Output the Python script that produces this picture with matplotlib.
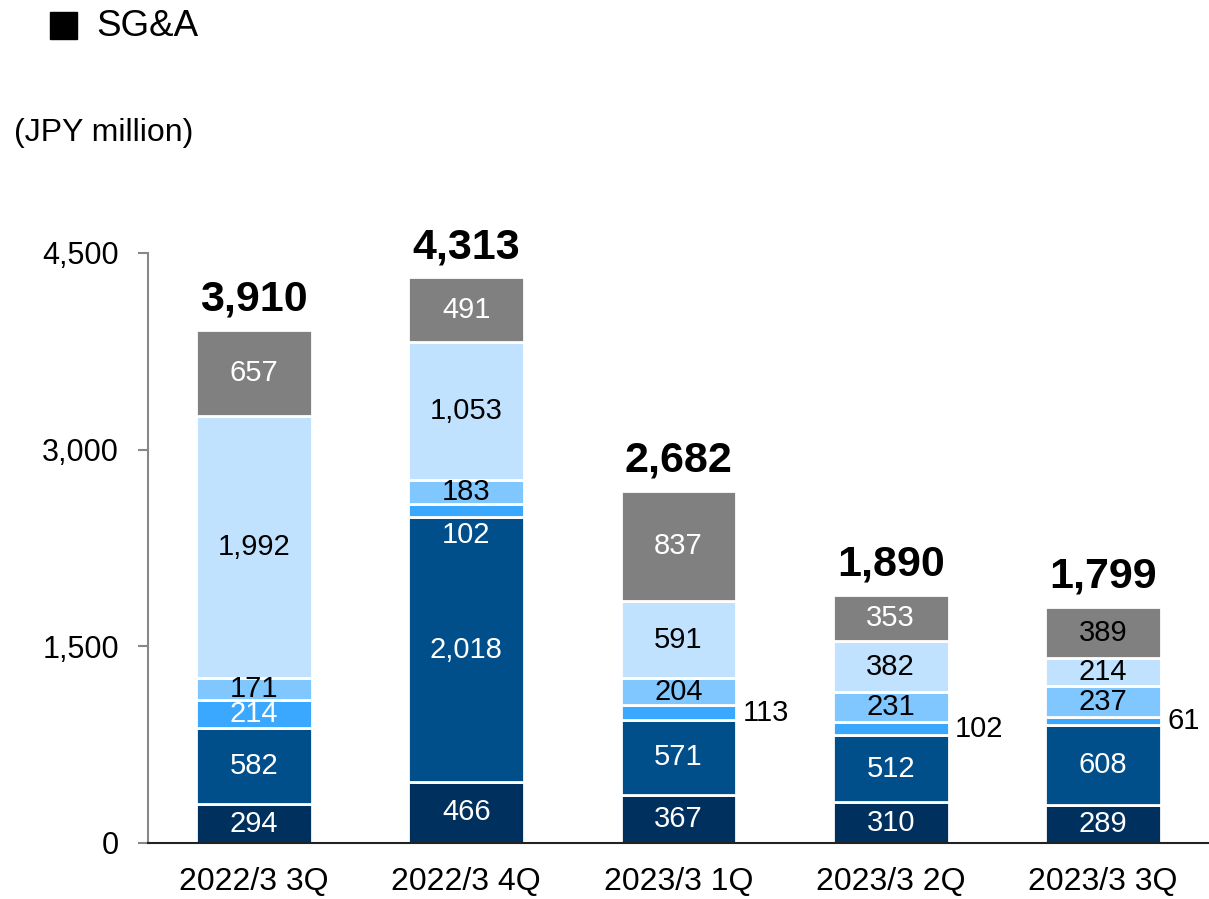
import numpy as np
import matplotlib
matplotlib.use("Agg")
import matplotlib.pyplot as plt
from matplotlib.patches import Rectangle

plt.rcParams['font.family'] = ['Liberation Sans', 'DejaVu Sans']

quarters = ['2022/3 3Q', '2022/3 4Q', '2023/3 1Q', '2023/3 2Q', '2023/3 3Q']
seg1 = [294, 466, 367, 310, 289]
seg2 = [582, 2018, 571, 512, 608]
seg3 = [214, 102, 113, 102, 61]
seg4 = [171, 183, 204, 231, 237]
seg5 = [1992, 1053, 591, 382, 214]
seg6 = [657, 491, 837, 353, 389]
totals = [3910, 4313, 2682, 1890, 1799]

segments = [seg1, seg2, seg3, seg4, seg5, seg6]
colors = ['#00305e', '#004f8a', '#3aa8ff', '#80c6ff', '#c0e2ff', '#808080']
# label text colour per segment and bar
text_colors = [
    ['white'] * 5,
    ['white'] * 5,
    ['white', 'white', 'black', 'black', 'black'],
    ['black'] * 5,
    ['black'] * 5,
    ['white', 'white', 'white', 'white', 'black'],
]

fig = plt.figure(figsize=(12.09, 8.99), dpi=100)
ax = fig.add_axes([0.1224, 0.0623, 0.8776, 0.6563])

x = np.arange(len(quarters))
width = 0.545
bottom = np.zeros(len(quarters))
for k, (vals, col) in enumerate(zip(segments, colors)):
    vals = np.array(vals)
    ax.bar(x, vals, width, bottom=bottom, color=col, edgecolor='white',
           linewidth=2, zorder=2)
    for i, v in enumerate(vals):
        mid = bottom[i] + v / 2
        if k == 2 and i >= 2:
            # small segments labelled outside, to the right
            ax.text(x[i] + width / 2 + 0.03, mid, f'{v:,}', ha='left',
                    va='center', fontsize=21, color='black')
        elif k == 2 and i == 1:
            ax.text(x[i], bottom[i] - 135, f'{v:,}', ha='center',
                    va='center', fontsize=21, color='white', zorder=3)
        else:
            ax.text(x[i], mid, f'{v:,}', ha='center', va='center',
                    fontsize=21, color=text_colors[k][i], zorder=3)
    bottom += vals

for i, t in enumerate(totals):
    ax.annotate(f'{t:,}', (x[i], bottom[i]), xytext=(0, 14),
                textcoords='offset points', ha='center', va='baseline',
                fontsize=31, fontweight='bold', annotation_clip=False)

ax.set_xlim(-0.5, 4.5)
ax.set_ylim(0, 4500)
ax.set_yticks([0, 1500, 3000, 4500])
ax.set_yticklabels(['0', '1,500', '3,000', '4,500'])
ax.set_xticks(x)
ax.set_xticklabels(quarters)
ax.tick_params(axis='y', length=7, width=1.5, color='#888888', pad=14,
               labelsize=22)
ax.tick_params(axis='x', length=0, pad=17, labelsize=23)
for s in ['top', 'right']:
    ax.spines[s].set_visible(False)
ax.spines['left'].set_color('#888888')
ax.spines['left'].set_linewidth(1.5)
ax.spines['bottom'].set_color('#222222')
ax.spines['bottom'].set_linewidth(1.5)
ax.spines['bottom'].set_zorder(4)

fig.patches.append(Rectangle((50 / 1209, 1 - 39 / 899), 27 / 1209, 27 / 899,
                             transform=fig.transFigure, color='black'))
fig.text(96 / 1209, 1 - 27 / 899, 'SG&A', fontsize=26.5, va='center', ha='left')
fig.text(14 / 1209, 1 - 133 / 899, '(JPY million)', fontsize=23,
         va='center', ha='left')

fig.savefig('out.png', dpi=100)
